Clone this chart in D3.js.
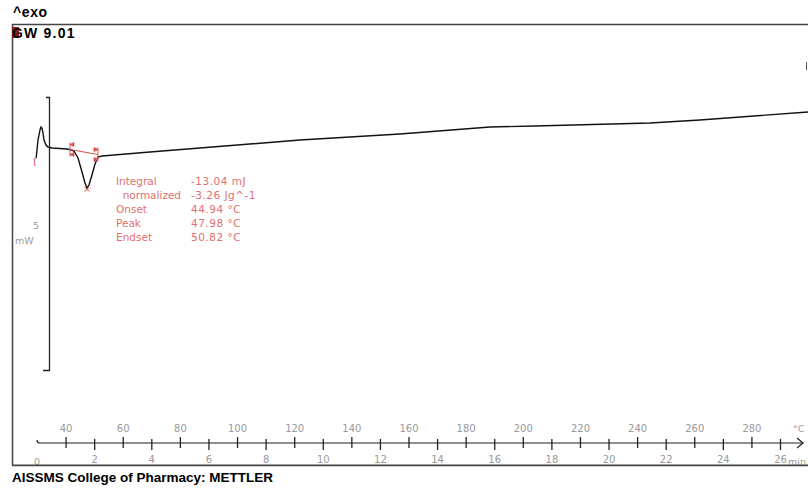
<!DOCTYPE html>
<html>
<head>
<meta charset="utf-8">
<script src="https://cdn.jsdelivr.net/npm/d3@7/dist/d3.min.js"></script>
<style>
  body { margin: 0; background: #fff; }
  svg { display: block; }
  .small { font-family: "DejaVu Sans", sans-serif; font-size: 9.5px; }
  .res { font-family: "DejaVu Sans", sans-serif; font-size: 10.5px; }
</style>
</head>
<body>
<svg id="chart"></svg>
<script>
// DSC curve, time in min, heat flow in mW (arbitrary offset)
let timeMin = [-0.03, 0, 0.035, 0.105, 0.14, 0.175, 0.21, 0.245, 0.315, 0.385, 0.525, 0.805, 1.015, 1.155, 1.295, 1.435, 1.575, 1.68, 1.75, 1.82, 1.924, 2.03, 2.134, 2.274, 3.95, 5.70, 9.20, 12.70, 15.85, 17.42, 21.45, 23.2, 26.98]
let heatFlow = [5.546, 5.692, 5.875, 6.059, 6.114, 6.095, 6.004, 5.875, 5.784, 5.747, 5.729, 5.720, 5.711, 5.701, 5.674, 5.546, 5.289, 5.088, 4.996, 5.051, 5.234, 5.436, 5.564, 5.582, 5.656, 5.729, 5.875, 5.985, 6.114, 6.132, 6.187, 6.242, 6.388]

let minTicks = [0, 2, 4, 6, 8, 10, 12, 14, 16, 18, 20, 22, 24, 26]
let tempTicks = [40, 60, 80, 100, 120, 140, 160, 180, 200, 220, 240, 260, 280]

// integration limits / peak
let limitTimes = [1.155, 2.134]
let limitFlows = [5.701, 5.61]
let peakTime = 1.75
let peakFlow = 4.996

let resultLabels = ['Integral', '  normalized', 'Onset', 'Peak', 'Endset']
let resultValues = ['-13.04 mJ', '-3.26 Jg^-1', '44.94 °C', '47.98 °C', '50.82 °C']

let W = 808, H = 488
let svg = d3.select('#chart').attr('width', W).attr('height', H)

let x = d3.scaleLinear().domain([0, 26]).range([37, 780])
let xT = d3.scaleLinear().domain([30, 290]).range([37, 780])
let y = d3.scaleLinear().domain([0, 8]).range([460.8, 24])

let red = '#d9534f'
let grey = '#9a9a9a'
let boldFont = 'Liberation Sans, Arial, sans-serif'

// frame
svg.append('line').attr('x1', 12).attr('x2', W).attr('y1', 24.5).attr('y2', 24.5)
    .attr('stroke', '#444').attr('stroke-width', 1.5)
svg.append('line').attr('x1', 12.5).attr('x2', 12.5).attr('y1', 24).attr('y2', 465)
    .attr('stroke', '#444').attr('stroke-width', 1.5)

// header texts
svg.append('text').attr('x', 13).attr('y', 17).text('^exo')
    .attr('font-family', boldFont).attr('font-weight', 'bold').attr('font-size', 14).attr('letter-spacing', 0.6)
svg.append('rect').attr('x', 12).attr('y', 27).attr('width', 7).attr('height', 11).attr('fill', '#8b1a1a')
svg.append('text').attr('x', 12).attr('y', 38).text('GW 9.01')
    .attr('font-family', boldFont).attr('font-weight', 'bold').attr('font-size', 14).attr('letter-spacing', 1.2)

// scale bar
svg.append('path').attr('d', 'M46,97.5H49.5V370.5H43')
    .attr('fill', 'none').attr('stroke', '#222').attr('stroke-width', 1.3)
svg.append('text').attr('class', 'small').attr('x', 33).attr('y', 229).attr('fill', grey).text('5')
svg.append('text').attr('class', 'small').attr('x', 15).attr('y', 244).attr('fill', grey).text('mW')

// curve
let line = d3.line().x((d, i) => x(timeMin[i])).y(d => y(d))
svg.append('path').datum(heatFlow).attr('d', line)
    .attr('fill', 'none').attr('stroke', '#111').attr('stroke-width', 1.4)

// red markers
svg.append('text').attr('class', 'small').attr('x', x(-0.13)).attr('y', y(5.5) + 4).attr('fill', red).text('[')
svg.append('line')
    .attr('x1', x(limitTimes[0])).attr('y1', y(limitFlows[0]))
    .attr('x2', x(limitTimes[1])).attr('y2', y(limitFlows[1]))
    .attr('stroke', red).attr('stroke-width', 1)
limitTimes.forEach((t, i) => {
    let px = x(t), py = y(limitFlows[i])
    let dir = i === 0 ? 1 : -1
    svg.append('path')
        .attr('d', `M${px},${py - 5}l${4 * dir},-2l0,4z M${px},${py + 5}l${4 * dir},-2l0,4z`)
        .attr('fill', red).attr('stroke', red).attr('stroke-width', 0.8)
    svg.append('line').attr('x1', px).attr('x2', px).attr('y1', py - 7).attr('y2', py + 7)
        .attr('stroke', red).attr('stroke-width', 1)
})
svg.append('text').attr('class', 'small').attr('x', x(peakTime)).attr('y', y(peakFlow) + 3.5)
    .attr('text-anchor', 'middle').attr('fill', red).text('×')

// results text
resultLabels.forEach((l, i) => {
    svg.append('text').attr('class', 'res').attr('x', 116).attr('y', 185 + i * 14)
        .attr('fill', '#e07070').style('white-space', 'pre').text(l)
    svg.append('text').attr('class', 'res').attr('x', 191).attr('y', 185 + i * 14)
        .attr('fill', '#e07070').attr('letter-spacing', 0.5).text(resultValues[i])
})

// time / temperature axis
let axisY = 443
svg.append('path').attr('d', `M37,${axisY - 3}q0,3 3,3H803`)
    .attr('fill', 'none').attr('stroke', '#222').attr('stroke-width', 1.2)
svg.append('path').attr('d', `M797,${axisY - 5}L803,${axisY}L797,${axisY + 5}`)
    .attr('fill', 'none').attr('stroke', '#222').attr('stroke-width', 1.2)

let tAxis = svg.append('g').attr('transform', `translate(0,${axisY})`)
    .call(d3.axisTop(xT).tickValues(tempTicks).tickSize(0).tickPadding(11))
tAxis.select('.domain').remove()
tAxis.selectAll('.tick line').attr('y1', -6).attr('y2', 5).attr('stroke', '#222').attr('stroke-width', 1.3)
tAxis.selectAll('.tick text').attr('fill', grey).attr('font-family', 'DejaVu Sans, sans-serif').attr('font-size', 10)

let mAxis = svg.append('g').attr('transform', `translate(0,${axisY})`)
    .call(d3.axisBottom(x).tickValues(minTicks.slice(1)).tickSize(0).tickPadding(13))
mAxis.select('.domain').remove()
mAxis.selectAll('.tick line').attr('y1', -4).attr('y2', 7).attr('stroke', '#222').attr('stroke-width', 1.3)
mAxis.selectAll('.tick text').attr('fill', grey).attr('font-family', 'DejaVu Sans, sans-serif').attr('font-size', 10)
svg.append('text').attr('class', 'small').attr('x', x(0)).attr('y', axisY + 22)
    .attr('text-anchor', 'middle').attr('fill', grey).attr('font-size', 10).text('0')
svg.append('text').attr('class', 'small').attr('x', x(26) + 8).attr('y', axisY + 22).attr('fill', grey).attr('font-size', 10).text('min')
svg.append('text').attr('class', 'small').attr('x', 793).attr('y', axisY - 11).attr('fill', grey).attr('font-size', 10).text('°C')

// small mark on right edge
svg.append('line').attr('x1', 806.5).attr('x2', 806.5).attr('y1', 62).attr('y2', 70)
    .attr('stroke', '#555').attr('stroke-width', 1)

// bottom border, drawn over the min labels
svg.append('line').attr('x1', 12).attr('x2', W).attr('y1', 465.5).attr('y2', 465.5)
    .attr('stroke', '#444').attr('stroke-width', 2)
svg.append('rect').attr('x', 12).attr('y', 466.5).attr('width', W).attr('height', 6).attr('fill', '#fff')

svg.append('text').attr('x', 12).attr('y', 482).text('AISSMS College of Pharmacy: METTLER')
    .attr('font-family', boldFont).attr('font-weight', 'bold').attr('font-size', 13.5)
</script>
</body>
</html>
